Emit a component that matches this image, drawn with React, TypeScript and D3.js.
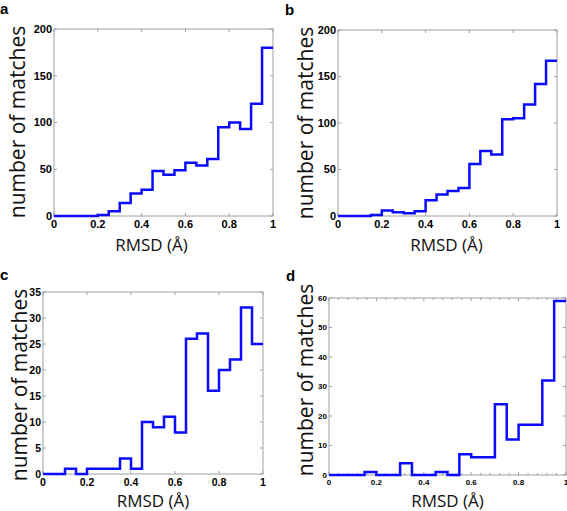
import React from 'react';
import * as d3 from 'd3';

const binStarts = [0, 0.05, 0.1, 0.15, 0.2, 0.25, 0.3, 0.35, 0.4, 0.45, 0.5, 0.55, 0.6, 0.65, 0.7, 0.75, 0.8, 0.85, 0.9, 0.95];
const countsA = [0, 0, 0, 0, 1, 5, 14, 24, 28, 48, 44, 49, 57, 54, 61, 95, 100, 93, 120, 180];
const countsB = [0, 0, 0, 1, 6, 4, 3, 5, 17, 23, 27, 30, 56, 70, 66, 104, 105, 120, 142, 167];
const countsC = [0, 0, 1, 0, 1, 1, 1, 3, 1, 10, 9, 11, 8, 26, 27, 16, 20, 22, 32, 25];
const countsD = [0, 0, 0, 1, 0, 0, 4, 0, 0, 1, 0, 7, 6, 6, 24, 12, 17, 17, 32, 59];
const xTicks = [0, 0.2, 0.4, 0.6, 0.8, 1];
const yTicksAB = [0, 50, 100, 150, 200];
const yTicksC = [0, 5, 10, 15, 20, 25, 30, 35];
const yTicksD = [0, 10, 20, 30, 40, 50, 60];
const xMinorD = [0.04, 0.08, 0.12, 0.16, 0.24, 0.28, 0.32, 0.36, 0.44, 0.48, 0.52, 0.56, 0.64, 0.68, 0.72, 0.76, 0.84, 0.88, 0.92, 0.96];
const letters = ['a', 'b', 'c', 'd'];
const xTitle = 'RMSD (Å)';
const yTitle = 'number of matches';

type PanelProps = {
  letter: string;
  counts: number[];
  yTicks: number[];
  box: { x0: number; x1: number; y0: number; y1: number };
  tickFont: number;
  xLabelOffset: number;
  letterPos: [number, number];
  yTitlePos: [number, number];
  xTitlePos: [number, number];
  xMinor?: number[];
};

const fmt = (v: number) => (v === 0 ? '0' : v === 1 ? '1' : String(v));

function Panel(p: PanelProps) {
  const { x0, x1, y0, y1 } = p.box;
  const x = d3.scaleLinear().domain([0, 1]).range([x0, x1]);
  const yMax = p.yTicks[p.yTicks.length - 1];
  const y = d3.scaleLinear().domain([0, yMax]).range([y1, y0]);
  const pts: [number, number][] = p.counts.map((c, i) => [binStarts[i], c]);
  pts.push([1, p.counts[p.counts.length - 1]]);
  const line = d3
    .line<[number, number]>()
    .x((d) => x(d[0]))
    .y((d) => y(d[1]))
    .curve(d3.curveStepAfter);
  const tl = 3;
  const frame = '#a0a0a0';
  return (
    <g>
      <text x={p.letterPos[0]} y={p.letterPos[1]} fontFamily="Liberation Sans, Arial, sans-serif" fontWeight="bold" fontSize={15} fill="#000">
        {p.letter}
      </text>
      <rect x={x0} y={y0} width={x1 - x0} height={y1 - y0} fill="#fff" stroke={frame} strokeWidth={1} />
      {xTicks.map((t) => (
        <g key={'xt' + t}>
          <line x1={x(t)} x2={x(t)} y1={y1} y2={y1 - tl} stroke={frame} />
          <line x1={x(t)} x2={x(t)} y1={y0} y2={y0 + tl} stroke={frame} />
          <text x={x(t)} y={y1 + p.xLabelOffset} textAnchor="middle" fontFamily="Liberation Sans, Arial, sans-serif" fontWeight="bold" fontSize={p.tickFont} fill="#000">
            {fmt(t)}
          </text>
        </g>
      ))}
      {(p.xMinor || []).map((t) => (
        <g key={'xm' + t}>
          <line x1={x(t)} x2={x(t)} y1={y1} y2={y1 - 2} stroke={frame} />
          <line x1={x(t)} x2={x(t)} y1={y0} y2={y0 + 2} stroke={frame} />
        </g>
      ))}
      {p.yTicks.map((t) => (
        <g key={'yt' + t}>
          <line x1={x0} x2={x0 + tl} y1={y(t)} y2={y(t)} stroke={frame} />
          <line x1={x1} x2={x1 - tl} y1={y(t)} y2={y(t)} stroke={frame} />
          <text x={x0 - 2} y={y(t)} dy="0.36em" textAnchor="end" fontFamily="Liberation Sans, Arial, sans-serif" fontWeight="bold" fontSize={p.tickFont} fill="#000">
            {t}
          </text>
        </g>
      ))}
      <path d={line(pts) || ''} fill="none" stroke="#0a0aff" strokeWidth={2.5} strokeLinejoin="miter" />
      <text
        transform={`translate(${p.yTitlePos[0]},${p.yTitlePos[1]}) rotate(-90)`}
        textAnchor="middle"
        fontFamily="Open Sans, sans-serif"
        fontSize={21}
        fill="#111"
      >
        {yTitle}
      </text>
      <text x={p.xTitlePos[0]} y={p.xTitlePos[1]} textAnchor="middle" fontFamily="Open Sans, sans-serif" fontSize={17} fill="#111">
        {xTitle}
      </text>
    </g>
  );
}

export default function App() {
  return (
    <svg width={567} height={511} style={{ position: 'absolute', left: 0, top: 0, background: '#fff' }}>
      <Panel
        letter={letters[0]}
        counts={countsA}
        yTicks={yTicksAB}
        box={{ x0: 54, x1: 273, y0: 29, y1: 216 }}
        tickFont={11}
        xLabelOffset={12}
        letterPos={[0, 14]}
        yTitlePos={[25, 122]}
        xTitlePos={[151.5, 251]}
      />
      <Panel
        letter={letters[1]}
        counts={countsB}
        yTicks={yTicksAB}
        box={{ x0: 338, x1: 557, y0: 30, y1: 216 }}
        tickFont={11}
        xLabelOffset={12}
        letterPos={[285, 15]}
        yTitlePos={[313, 123]}
        xTitlePos={[446.5, 251]}
      />
      <Panel
        letter={letters[2]}
        counts={countsC}
        yTicks={yTicksC}
        box={{ x0: 43, x1: 263, y0: 292, y1: 474 }}
        tickFont={10.5}
        xLabelOffset={12}
        letterPos={[0, 280]}
        yTitlePos={[27, 385]}
        xTitlePos={[153, 507]}
      />
      <Panel
        letter={letters[3]}
        counts={countsD}
        yTicks={yTicksD}
        box={{ x0: 329, x1: 566, y0: 298, y1: 475 }}
        tickFont={8}
        xLabelOffset={10}
        letterPos={[286, 281]}
        yTitlePos={[313, 380]}
        xTitlePos={[447.5, 506.5]}
        xMinor={xMinorD}
      />
    </svg>
  );
}
